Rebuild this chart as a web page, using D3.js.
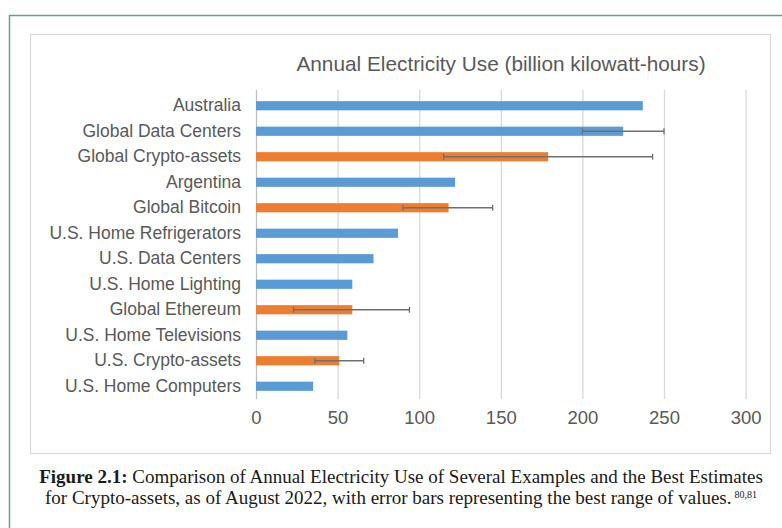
<!DOCTYPE html>
<html>
<head>
<meta charset="utf-8">
<script src="https://cdn.jsdelivr.net/npm/d3@7"></script>
<style>
    body { margin: 0; background: #fff; }
    svg { display: block; }
</style>
</head>
<body>
<script>
// data
var categories = ["Australia", "Global Data Centers", "Global Crypto-assets", "Argentina",
    "Global Bitcoin", "U.S. Home Refrigerators", "U.S. Data Centers", "U.S. Home Lighting",
    "Global Ethereum", "U.S. Home Televisions", "U.S. Crypto-assets", "U.S. Home Computers"];
var values = [237, 225, 179, 122, 118, 87, 72, 59, 59, 56, 51, 35];
var kinds = ["other", "other", "crypto", "other", "crypto", "other", "other", "other",
    "crypto", "other", "crypto", "other"];
var errLow = [null, 200, 115, null, 90, null, null, null, 23, null, 36, null];
var errHigh = [null, 250, 243, null, 145, null, null, null, 94, null, 66, null];
var xTicks = [0, 50, 100, 150, 200, 250, 300];

var width = 782;
var height = 528;

var data = categories.map(function(c, i) {
    return {name: c, value: values[i], kind: kinds[i], lo: errLow[i], hi: errHigh[i]};
});

const svg = d3.select("body")
.append("svg")
    .attr("width", width)
    .attr("height", height);

// green frame
svg.append("path")
    .attr("d", "M9.5," + height + " V15.5 H" + width)
    .attr("fill", "none")
    .attr("stroke", "#5aa887")
    .attr("stroke-width", 1.5);

// chart box
svg.append("rect")
    .attr("x", 30.5)
    .attr("y", 34.5)
    .attr("width", 740)
    .attr("height", 419)
    .attr("fill", "#fff")
    .attr("stroke", "#d9d9d9")
    .attr("stroke-width", 1.2);

// title
svg.append("text")
    .attr("x", 501)
    .attr("y", 71)
    .attr("text-anchor", "middle")
    .attr("fill", "#595959")
    .style("font-family", "Liberation Sans, Arial, sans-serif")
    .style("font-size", "20.8px")
    .text("Annual Electricity Use (billion kilowatt-hours)");

//Scales
var x = d3.scaleLinear()
    .domain([0, 300])
    .range([256, 745.6]);

var y = d3.scaleBand()
    .domain(categories)
    .range([93, 399])
    .paddingInner(0.64)
    .paddingOuter(0.32);

var color = d3.scaleOrdinal()
    .domain(["other", "crypto"])
    .range(["#5b9bd5", "#ed7d31"]);

//Grid + x labels
var xAxisCall = d3.axisBottom(x)
    .tickValues(xTicks)
    .tickSize(-(399 - 90))
    .tickPadding(12)
    .tickFormat(d3.format("d"));

var xAxisGroup = svg.append("g")
    .attr("class", "x-axis")
    .attr("transform", "translate(0, 399)")
    .call(xAxisCall);

xAxisGroup.select(".domain").remove();
xAxisGroup.selectAll("line")
    .attr("stroke", function(d) { return d === 0 ? "#bfbfbf" : "#d9d9d9"; })
    .attr("stroke-width", 1.3);
xAxisGroup.selectAll("text")
    .attr("fill", "#595959")
    .style("font-family", "Liberation Sans, Arial, sans-serif")
    .style("font-size", "18.5px");

//Category labels
var yAxisCall = d3.axisLeft(y)
    .tickSize(0)
    .tickPadding(15);

var yAxisGroup = svg.append("g")
    .attr("class", "y-axis")
    .attr("transform", "translate(256, 0)")
    .call(yAxisCall);

yAxisGroup.select(".domain").remove();
yAxisGroup.selectAll("text")
    .attr("fill", "#595959")
    .style("font-family", "Liberation Sans, Arial, sans-serif")
    .style("font-size", "17.5px");

//Bars
svg.selectAll("rect.bar")
    .data(data)
    .enter()
    .append("rect")
        .attr("class", "bar")
        .attr("x", x(0))
        .attr("y", d => y(d.name))
        .attr("width", d => x(d.value) - x(0))
        .attr("height", y.bandwidth())
        .attr("fill", d => color(d.kind));

//Error bars
var errs = svg.selectAll("g.err")
    .data(data.filter(d => d.lo !== null))
    .enter()
    .append("g")
        .attr("class", "err")
        .attr("stroke", "#707070")
        .attr("stroke-width", 1.3);

errs.append("line")
    .attr("x1", d => x(d.lo))
    .attr("x2", d => x(d.hi))
    .attr("y1", d => y(d.name) + y.bandwidth() / 2)
    .attr("y2", d => y(d.name) + y.bandwidth() / 2);

errs.append("line")
    .attr("x1", d => x(d.lo))
    .attr("x2", d => x(d.lo))
    .attr("y1", d => y(d.name) + y.bandwidth() / 2 - 3)
    .attr("y2", d => y(d.name) + y.bandwidth() / 2 + 3);

errs.append("line")
    .attr("x1", d => x(d.hi))
    .attr("x2", d => x(d.hi))
    .attr("y1", d => y(d.name) + y.bandwidth() / 2 - 3)
    .attr("y2", d => y(d.name) + y.bandwidth() / 2 + 3);

//Caption
var cap = svg.append("g")
    .style("font-family", "Liberation Serif, Times New Roman, serif")
    .style("font-size", "19px")
    .attr("fill", "#1a1a1a");

var line1 = cap.append("text")
    .attr("x", 401)
    .attr("y", 483)
    .attr("text-anchor", "middle");
line1.append("tspan")
    .style("font-weight", "bold")
    .text("Figure 2.1:");
line1.append("tspan")
    .text(" Comparison of Annual Electricity Use of Several Examples and the Best Estimates");

var line2 = cap.append("text")
    .attr("x", 401)
    .attr("y", 504)
    .attr("text-anchor", "middle");
line2.append("tspan")
    .text("for Crypto-assets, as of August 2022, with error bars representing the best range of values.");
line2.append("tspan")
    .attr("dy", -6)
    .attr("dx", 3)
    .style("font-size", "10px")
    .text("80,81");
</script>
</body>
</html>
